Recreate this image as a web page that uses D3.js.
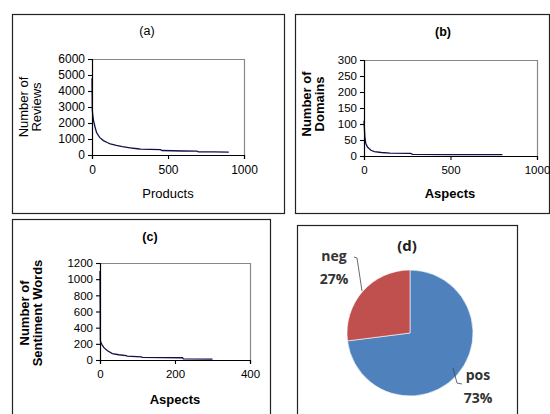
<!DOCTYPE html>
<html>
  <head>
    <script src="https://d3js.org/d3.v7.min.js" charset="utf-8"></script>
    <meta charset="UTF-8">
    <title>reviews, domains, sentiment words</title>
    <style>
      body { margin: 0; background: #fff; }
      text { font-family: "Liberation Sans", Arial, sans-serif; fill: #000; }
      .pie text { font-family: "Open Sans", Lato, sans-serif; font-weight: bold; fill: #333; }
    </style>
  </head>
  <body>
    <svg class="chart"></svg>
    <script type="text/javascript">

     var width = 550,
         height = 414;

     // (a) reviews per product, sorted
     var productsX = [0, 2, 5, 10, 20, 30, 50, 75, 100, 120, 160, 200, 250, 300, 320, 450, 460, 600, 690, 700, 800, 900];
     var reviewsY  = [4800, 2800, 2500, 2150, 1750, 1400, 1100, 900, 780, 700, 600, 520, 450, 390, 370, 330, 280, 250, 240, 200, 190, 180];
     var reviewsTicks = [0, 1000, 2000, 3000, 4000, 5000, 6000];
     var productsTicks = [0, 500, 1000];

     // (b) domains per aspect
     var aspectsBX = [0, 2, 5, 10, 20, 40, 60, 100, 150, 270, 280, 500, 800];
     var domainsY  = [110, 90, 60, 40, 28, 18, 14, 11, 9, 8, 5, 4, 4];
     var domainsTicks = [0, 50, 100, 150, 200, 250, 300];
     var aspectsBTicks = [0, 500, 1000];

     // (c) sentiment words per aspect
     var aspectsCX = [0, 1, 3, 6, 11, 20, 33, 50, 70, 72, 110, 112, 220, 222, 300];
     var wordsY    = [1100, 240, 210, 185, 150, 115, 80, 65, 55, 48, 40, 33, 28, 15, 12];
     var wordsTicks = [0, 200, 400, 600, 800, 1000, 1200];
     var aspectsCTicks = [0, 200, 400];

     // (d) polarity
     var polarity = ["pos", "neg"];
     var polarityShare = [73, 27];
     var polarityColors = ["#4F81BD", "#C0504D"];

     var chart = d3.select(".chart")
                   .attr("width", width)
                   .attr("height", height);

     // panel frames
     var frames = [[12, 14, 272, 199], [295, 14, 254, 199], [12, 219, 258, 200], [297, 225, 220, 195]];
     chart.selectAll("rect.frame")
          .data(frames)
          .enter().append("rect")
          .attr("class", "frame")
          .attr("x", function(d) { return d[0] + 0.5; })
          .attr("y", function(d) { return d[1] + 0.5; })
          .attr("width", function(d) { return d[2]; })
          .attr("height", function(d) { return d[3]; })
          .attr("fill", "none")
          .attr("stroke", "#222")
          .attr("stroke-width", 1.2);

     function linePanel(opt) {
         var g = chart.append("g");
         var x = d3.scaleLinear().domain(opt.xDomain).range([opt.left, opt.right]);
         var y = d3.scaleLinear().domain(opt.yDomain).range([opt.bottom, opt.top]);

         // plot area border (top and right, grey)
         g.append("path")
          .attr("d", "M" + opt.left + "," + (opt.top + 0.5) + "H" + (opt.right + 0.5) + "V" + opt.bottom)
          .attr("fill", "none")
          .attr("stroke", "#888")
          .attr("stroke-width", 1.2);

         var line = d3.line()
                      .x(function(d) { return x(d[0]); })
                      .y(function(d) { return y(d[1]); });
         g.append("path")
          .datum(d3.zip(opt.xs, opt.ys))
          .attr("d", line)
          .attr("fill", "none")
          .attr("stroke", "#10104a")
          .attr("stroke-width", 1.3);

         var yAxis = g.append("g")
                      .attr("transform", "translate(" + opt.left + ",0)")
                      .call(d3.axisLeft(y).tickValues(opt.yTicks).tickFormat(d3.format("d"))
                                          .tickSize(4).tickPadding(3));
         var xAxis = g.append("g")
                      .attr("transform", "translate(0," + opt.bottom + ")")
                      .call(d3.axisBottom(x).tickValues(opt.xTicks).tickFormat(d3.format("d"))
                                            .tickSize(4).tickPadding(6));
         [yAxis, xAxis].forEach(function(a) {
             a.select(".domain").attr("stroke", "#000").attr("stroke-width", 1.2);
             a.selectAll(".tick line").attr("stroke", "#000").attr("stroke-width", 1.1);
             a.selectAll(".tick text")
              .style("font-size", opt.tickSize + "px")
              .attr("fill", "#000");
         });

         var weight = opt.bold ? "bold" : "normal";
         g.append("text")
          .attr("x", opt.titleX).attr("y", opt.titleY)
          .attr("text-anchor", "middle")
          .style("font-size", "12.5px")
          .attr("font-weight", weight)
          .text(opt.title);
         g.append("text")
          .attr("x", opt.xLabelX).attr("y", opt.xLabelY)
          .attr("text-anchor", "middle")
          .style("font-size", "13px")
          .attr("font-weight", weight)
          .text(opt.xLabel);
         var yl = g.append("text")
                   .attr("transform", "translate(" + opt.yLabelX + "," + opt.yLabelY + ") rotate(-90)")
                   .attr("text-anchor", "middle")
                   .style("font-size", "13px")
                   .attr("font-weight", weight);
         opt.yLabel.forEach(function(s, i) {
             yl.append("tspan").attr("x", 0).attr("dy", i === 0 ? 0 : "1.0em").text(s);
         });
     }

     linePanel({
         xs: productsX, ys: reviewsY, xDomain: [0, 1000], yDomain: [0, 6000],
         xTicks: productsTicks, yTicks: reviewsTicks,
         left: 92, right: 244, top: 59, bottom: 155, tickSize: 12,
         title: "(a)", titleX: 147, titleY: 35,
         xLabel: "Products", xLabelX: 168, xLabelY: 198,
         yLabel: ["Number of", "Reviews"], yLabelX: 28, yLabelY: 107, bold: false
     });

     linePanel({
         xs: aspectsBX, ys: domainsY, xDomain: [0, 1000], yDomain: [0, 300],
         xTicks: aspectsBTicks, yTicks: domainsTicks,
         left: 364, right: 537, top: 60, bottom: 156, tickSize: 11.5,
         title: "(b)", titleX: 443, titleY: 36,
         xLabel: "Aspects", xLabelX: 450, xLabelY: 198,
         yLabel: ["Number of", "Domains"], yLabelX: 311, yLabelY: 104, bold: true
     });

     linePanel({
         xs: aspectsCX, ys: wordsY, xDomain: [0, 400], yDomain: [0, 1200],
         xTicks: aspectsCTicks, yTicks: wordsTicks,
         left: 100, right: 250, top: 263, bottom: 360, tickSize: 11.5,
         title: "(c)", titleX: 150, titleY: 241,
         xLabel: "Aspects", xLabelX: 175, xLabelY: 404,
         yLabel: ["Number of", "Sentiment Words"], yLabelX: 29, yLabelY: 313, bold: true
     });

     // (d) pie
     var cx = 410, cy = 333, r = 63;
     var pie = d3.pie().sort(null).value(function(d) { return d; });
     var arc = d3.arc().innerRadius(0).outerRadius(r);
     var pg = chart.append("g").attr("class", "pie");
     pg.append("g")
       .attr("transform", "translate(" + cx + "," + cy + ")")
       .selectAll("path")
       .data(pie(polarityShare))
       .enter().append("path")
       .attr("d", arc)
       .attr("fill", function(d, i) { return polarityColors[i]; })
       .attr("stroke", "#fff")
       .attr("stroke-width", 0.6);

     pg.append("text").attr("x", 407).attr("y", 251).attr("text-anchor", "middle")
       .style("font-size", "15px").style("fill", "#222").text("(d)");

     var labelPos = [[478, 380], [334, 261]];
     polarity.forEach(function(name, i) {
         pg.append("text").attr("x", labelPos[i][0]).attr("y", labelPos[i][1])
           .attr("text-anchor", "middle").style("font-size", "14px").text(name);
         pg.append("text").attr("x", labelPos[i][0]).attr("y", labelPos[i][1] + 23)
           .attr("text-anchor", "middle").style("font-size", "14px").text(polarityShare[i] + "%");
     });

     // leader lines
     pg.append("path").attr("d", "M354,257L357,258L362,291")
       .attr("fill", "none").attr("stroke", "#444").attr("stroke-width", 0.8);
     pg.append("path").attr("d", "M453,368L457,383L462,384")
       .attr("fill", "none").attr("stroke", "#444").attr("stroke-width", 0.8);

    </script>
  </body>
</html>
